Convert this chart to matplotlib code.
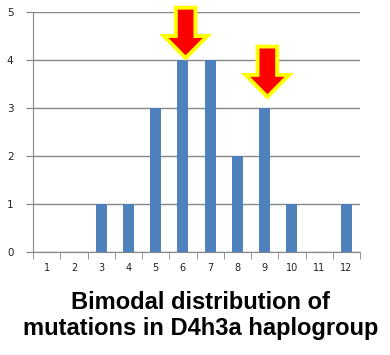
import matplotlib
matplotlib.use('Agg')
import matplotlib.pyplot as plt
from matplotlib.patches import FancyArrow

# data
categories = [1, 2, 3, 4, 5, 6, 7, 8, 9, 10, 11, 12]
counts = [0, 0, 1, 1, 3, 4, 4, 2, 3, 1, 0, 1]
peaks = [6, 9]
title = 'Bimodal distribution of\nmutations in D4h3a haplogroup'

fig = plt.figure(figsize=(3.9, 3.55), dpi=100)
ax = fig.add_axes([33 / 390, 1 - 252 / 355, 327 / 390, 240 / 355])

ax.bar(categories, counts, width=0.4, color='#4f81bd', zorder=3)
ax.set_xlim(0.5, 12.5)
ax.set_ylim(0, 5)
ax.set_yticks(range(6))
ax.set_xticks(categories)
ax.set_xticks([c + 0.5 for c in [0] + categories], minor=True)
ax.tick_params(axis='x', which='major', length=0, labelsize=7, pad=8, colors='#222222')
ax.tick_params(axis='x', which='minor', length=5, color='#868686')
ax.tick_params(axis='y', length=5, color='#868686', labelsize=7.5, pad=9, labelcolor='#222222')
ax.grid(axis='y', color='#868686', linewidth=1, zorder=0)
for s in ['top', 'right']:
    ax.spines[s].set_visible(False)
for s in ['left', 'bottom']:
    ax.spines[s].set_color('#868686')

# red arrows over the two peaks
for p in peaks:
    top = counts[p - 1]
    tip = top + 0.04 if p == 6 else top + 0.23
    arr = FancyArrow(p + 0.1, tip + 1.05, 0, -1.05, width=0.72, head_width=1.6,
                     head_length=0.46, length_includes_head=True,
                     facecolor='#ff0000', edgecolor='#ffff00', linewidth=2.8,
                     zorder=5, clip_on=False)
    ax.add_patch(arr)

fig.text(0.514, 0.112, title, ha='center', va='center', fontsize=17,
         fontweight='bold', family='Liberation Sans', linespacing=1.15)

fig.savefig('out.png', dpi=100)
